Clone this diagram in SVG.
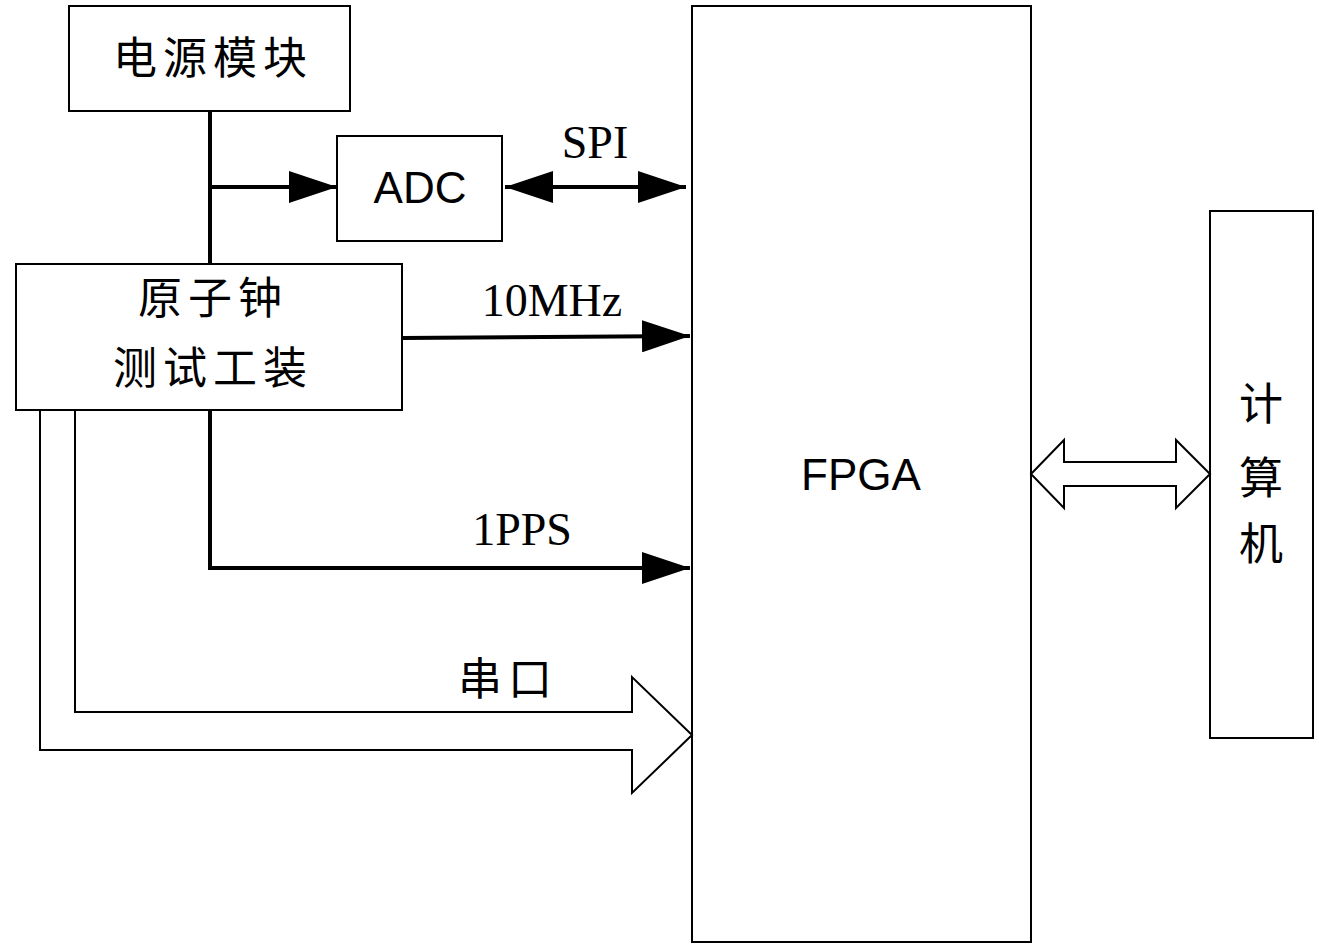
<svg xmlns="http://www.w3.org/2000/svg" width="1319" height="949" viewBox="0 0 1319 949">
<style>
.b{fill:#fff;stroke:#000;stroke-width:2}
.l{fill:none;stroke:#000;stroke-width:4}
.h{fill:none;stroke:#000;stroke-width:2}
.cn{font-family:"Noto Sans CJK SC",sans-serif;font-size:44px;text-anchor:middle;letter-spacing:6px}
.se{font-family:"Liberation Serif",serif;font-size:46px;text-anchor:middle}
.sa{font-family:"Liberation Sans",sans-serif;font-size:44px;text-anchor:middle}
</style>
<defs>
<marker id="A" viewBox="0 0 12 8" refX="12" refY="4" markerWidth="48" markerHeight="32" orient="auto-start-reverse" markerUnits="userSpaceOnUse"><path d="M0,0L12,4L0,8z"/></marker>
</defs>
<g id="power"><rect class="b" x="69" y="6" width="281" height="105"/><text class="cn" x="213" y="74">电源模块</text></g>
<g id="adc"><rect class="b" x="337" y="136" width="165" height="105"/><text class="sa" x="420" y="203">ADC</text></g>
<g id="clock"><rect class="b" x="16" y="264" width="386" height="146"/><text class="cn" x="213" y="314">原子钟</text><text class="cn" x="213" y="384">测试工装</text></g>
<g id="fpga"><rect class="b" x="692" y="6" width="339" height="936"/><text class="sa" x="861" y="490">FPGA</text></g>
<g id="pc"><rect class="b" x="1210" y="211" width="103" height="527"/><text class="cn" x="1264" y="420">计</text><text class="cn" x="1264" y="494">算</text><text class="cn" x="1264" y="560">机</text></g>
<g id="connectors">
<path class="l" d="M210,111V264"/>
<path class="l" d="M210,187H337" marker-end="url(#A)"/>
<path class="l" d="M505,187H686" marker-start="url(#A)" marker-end="url(#A)"/>
<path class="l" d="M402,338L690,336" marker-end="url(#A)"/>
<path class="l" d="M210,410V568H690" marker-end="url(#A)"/>
<path class="h" d="M40,410V750H632V793L692,735L632,677V712H75V410"/>
<path class="h" d="M1031,474L1064,440V462H1176V440L1210,474L1176,508V486H1064V508Z"/>
</g>
<text class="se" x="595" y="158">SPI</text>
<text class="se" x="552" y="316">10MHz</text>
<text class="se" x="522" y="545">1PPS</text>
<text class="cn" x="508" y="695">串口</text>
</svg>
